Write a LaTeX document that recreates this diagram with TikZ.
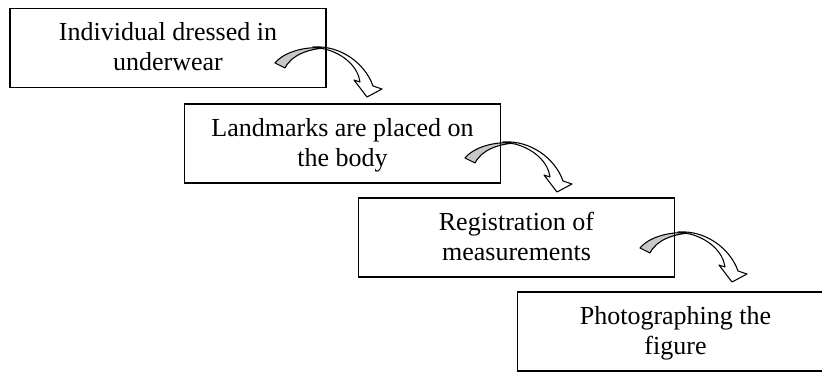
\documentclass[tikz,border=0pt]{standalone}
\usepackage{fontspec}
\setmainfont{Liberation Serif}
\usetikzlibrary{calc}
\definecolor{arrowgray}{RGB}{200,200,200}
\tikzset{
  stepbox/.style={draw=black, line width=1.1pt, minimum width=237pt,
    minimum height=59pt, inner sep=0pt},
  steptext/.style={anchor=base, inner sep=0pt,
    font=\fontsize{19.5pt}{22.5pt}\selectfont},
  arrowline/.style={draw=black, line width=0.8pt, line join=round},
  % curved ribbon arrow: shaded underside on the tail, white top side with head
  bend arrow/.pic={
    \path[arrowline, fill=arrowgray]
      (5,18) .. controls (14,7) and (35,1) .. (55,3)
      .. controls (40,4) and (22,9) .. (15,23) -- cycle;
    \path[arrowline, fill=white]
      (43,2) .. controls (70,0) and (95,18) .. (103,41)
      -- (112,44) -- (97,52) -- (84,35) -- (90,37)
      .. controls (88,22) and (74,9) .. (55,4) -- cycle;
  }
}
\begin{document}
\begin{tikzpicture}[x=0.75pt, y=-0.75pt]
  \path[use as bounding box, clip] (0,0) rectangle (822,372);

  % curved arrows between consecutive steps
  \pic at (270,45) {bend arrow};
  \pic at (460,140) {bend arrow};
  \pic at (635,230) {bend arrow};

  % step boxes
  \node[stepbox] (b1) at (168,48) {};
  \node[stepbox] (b2) at (342.5,143.5) {};
  \node[stepbox] (b3) at (516.5,237.5) {};
  \node[stepbox] (b4) at (675.5,331.5) {};

  % step labels
  \node[steptext] (t1) at ($(b1.north)+(0,33)$)
    {\begin{tabular}[t]{@{}c@{}}Individual dressed in\\underwear\end{tabular}};
  \node[steptext] (t2) at ($(b2.north)+(0,33)$)
    {\begin{tabular}[t]{@{}c@{}}Landmarks are placed on\\the body\end{tabular}};
  \node[steptext] (t3) at ($(b3.north)+(0,33)$)
    {\begin{tabular}[t]{@{}c@{}}Registration of\\measurements\end{tabular}};
  \node[steptext] (t4) at ($(b4.north)+(0,33)$)
    {\begin{tabular}[t]{@{}c@{}}Photographing the\\figure\end{tabular}};
\end{tikzpicture}
\end{document}
